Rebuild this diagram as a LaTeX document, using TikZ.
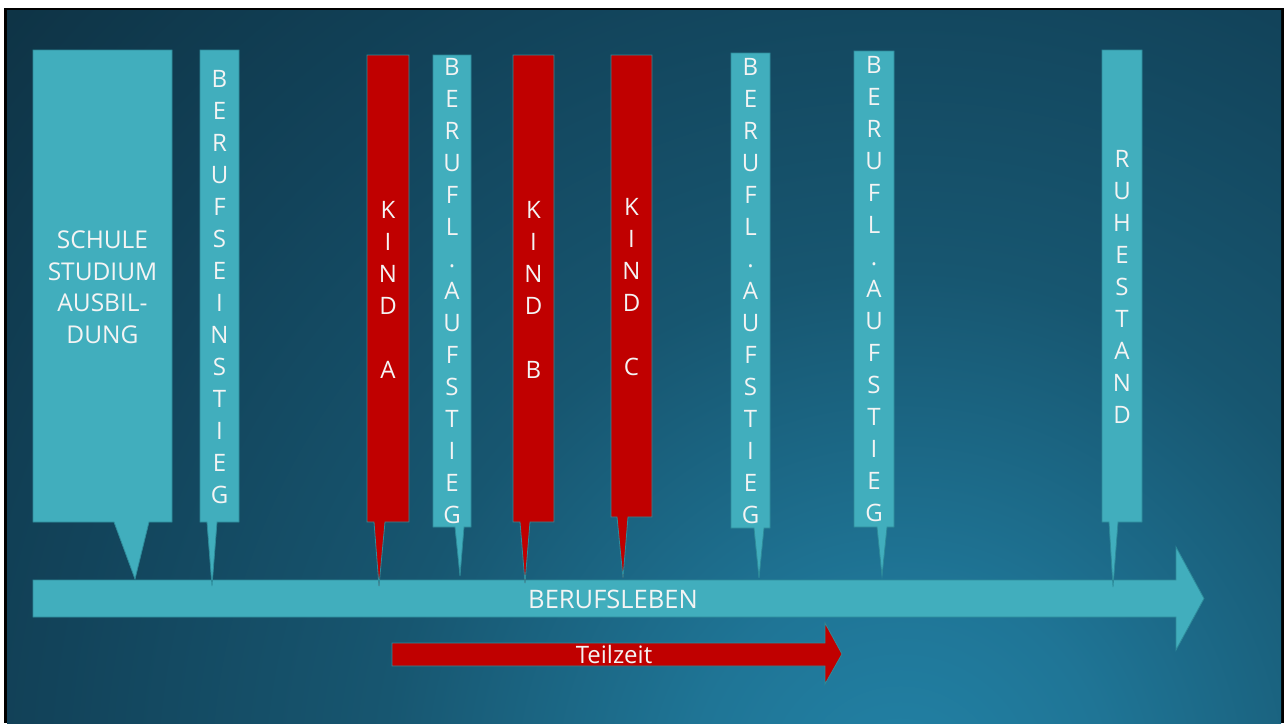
\documentclass[tikz,border=0pt]{standalone}
\usepackage{fontspec}
\setmainfont{Open Sans}
\definecolor{tealbox}{HTML}{41AEBD}
\definecolor{tealline}{HTML}{2E8B9A}
\definecolor{redbox}{HTML}{C00000}
\definecolor{bga}{HTML}{2282A6}
\definecolor{bgb}{HTML}{1F7596}
\definecolor{bgc}{HTML}{175670}
\definecolor{bgd}{HTML}{12435A}
\definecolor{bge}{HTML}{0E3345}
\definecolor{txt}{HTML}{F4F4F4}
\pgfdeclareradialshading{slidebg}{\pgfpoint{0bp}{0bp}}{color(0bp)=(bga); color(4bp)=(bgb); color(10bp)=(bgc); color(16.5bp)=(bgd); color(23bp)=(bge); color(50bp)=(bge)}
\newcommand\mycallout[9]{\draw[#1] (#2,#4) -- (#3,#4) -- (#3,#5) -- (#7,#5) -- (#8,#9) -- (#6,#5) -- (#2,#5) -- cycle;}
\begin{document}
\begin{tikzpicture}[x=1pt,y=-1pt,
  tealshape/.style={fill=tealbox,draw=tealline,line width=0.8pt},
  redshape/.style={fill=redbox,draw=tealline,line width=0.8pt},
  lbl/.style={text=txt,font=\fontsize{24}{32}\selectfont,align=center,inner sep=0pt}]
\useasboundingbox (0,0) rectangle (1284,723);
\fill[white] (0,0) rectangle (1284,723);
\fill[black] (4,8) rectangle (1284,723);
\begin{scope}
\clip (7,10.5) rectangle (1281,723);
\shade[shading=slidebg] (-400,-510) rectangle (2200,2090);
\end{scope}
% main arrow
\draw[tealshape] (33,580) -- (1176,580) -- (1176,547) -- (1204,598.5) -- (1176,650) -- (1176,617) -- (33,617) -- cycle;
% Teilzeit arrow
\draw[redshape] (392,643) -- (825,643) -- (825,623) -- (842,654) -- (825,684) -- (825,666) -- (392,666) -- cycle;
% callouts
\mycallout{tealshape}{33}{172}{50}{522}{114}{149}{135}{579}
\mycallout{tealshape}{200}{239}{50}{522}{207}{217}{212}{586}
\mycallout{redshape}{367}{409}{55}{522}{374}{385}{379}{586}
\mycallout{tealshape}{433}{471}{55}{527}{455}{464}{460}{576}
\mycallout{redshape}{513}{554}{55}{522}{520}{530}{525}{583}
\mycallout{redshape}{611}{652}{55}{517}{617}{628}{623}{578}
\mycallout{tealshape}{731}{770}{53}{528}{754}{764}{759}{578}
\mycallout{tealshape}{854}{894}{51}{527}{877}{887}{882}{576}
\mycallout{tealshape}{1102}{1142}{50}{522}{1109}{1118}{1113}{587}
% labels
\node[lbl,font=\fontsize{24.5}{31.5}\selectfont] (schule) at (102.5,287) {SCHULE\\STUDIUM\\AUSBIL-\\DUNG};
\node[lbl] (einstieg) at (219.5,287.5) {B\\E\\R\\U\\F\\S\\E\\I\\N\\S\\T\\I\\E\\G};
\node[lbl] (kinda) at (388,290) {K\\I\\N\\D\\[32pt]A};
\node[lbl] (auf1) at (452,291.5) {B\\E\\R\\U\\F\\L\\.\\A\\U\\F\\S\\T\\I\\E\\G};
\node[lbl] (kindb) at (533.5,290) {K\\I\\N\\D\\[32pt]B};
\node[lbl] (kindc) at (631.5,287) {K\\I\\N\\D\\[32pt]C};
\node[lbl] (auf2) at (750.5,291) {B\\E\\R\\U\\F\\L\\.\\A\\U\\F\\S\\T\\I\\E\\G};
\node[lbl] (auf3) at (874,289.5) {B\\E\\R\\U\\F\\L\\.\\A\\U\\F\\S\\T\\I\\E\\G};
\node[lbl] (ruhe) at (1122,287) {R\\U\\H\\E\\S\\T\\A\\N\\D};
\node[lbl,font=\fontsize{25.5}{30}\selectfont] (leben) at (613,599) {BERUFSLEBEN};
\node[lbl] (teil) at (614,654) {Teilzeit};
\end{tikzpicture}
\end{document}
